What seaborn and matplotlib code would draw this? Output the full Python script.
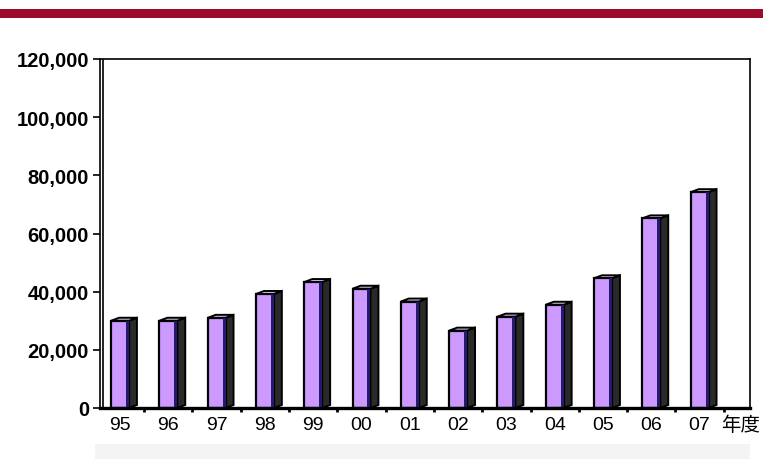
import matplotlib
matplotlib.use("Agg")
import matplotlib.pyplot as plt
import seaborn as sns
import pandas as pd
from matplotlib.patches import Polygon, Rectangle

years = ["95", "96", "97", "98", "99", "00", "01", "02", "03", "04", "05", "06", "07"]
values = [30000, 30000, 31000, 39200, 43300, 41000, 36600, 26600, 31400, 35500, 44600, 65200, 74200]
yticks = [0, 20000, 40000, 60000, 80000, 100000, 120000]
xunit = "年度"

sns.set_theme(style="white")
plt.rcParams['font.family'] = ['Liberation Sans', 'Noto Sans CJK JP', 'DejaVu Sans']
plt.rcParams['text.color'] = 'black'
plt.rcParams['xtick.color'] = 'black'
plt.rcParams['ytick.color'] = 'black'

W, H = 763, 460
fig = plt.figure(figsize=(W / 100, H / 100), dpi=100)
fig.patch.set_facecolor("white")

# top red band
fig.add_artist(Rectangle((0, 1 - 19 / H), 1, 9 / H, transform=fig.transFigure,
                         facecolor="#9E0A2A", edgecolor="none"))
# bottom light strip
fig.add_artist(Rectangle((95 / W, 0), (750 - 95) / W, 15 / H, transform=fig.transFigure,
                         facecolor="#f4f4f4", edgecolor="none"))

ax = fig.add_axes([100 / W, (H - 409) / H, 650 / W, 349 / H])
df = pd.DataFrame({"year": years, "value": values})
sns.barplot(data=df, x="year", y="value", color="#CC99FF", saturation=1,
            width=0.37, edgecolor="black", linewidth=1.6, ax=ax, zorder=3)

xpx = 48.3
ax.set_xlim(-20 / xpx, (750 - 120) / xpx)
ax.set_ylim(0, 120000)

dx = 8 / xpx
dy = 3 * 120000 / 349
stripe = 3 / xpx
for p in list(ax.patches):
    x0 = p.get_x()
    w = p.get_width()
    h = p.get_height()
    x1 = x0 + w
    side = Polygon([(x1, 0), (x1 + dx, dy), (x1 + dx, h + dy), (x1, h)],
                   closed=True, facecolor="#2a2a2a", edgecolor="black", linewidth=1.4, zorder=2)
    top = Polygon([(x0, h), (x0 + dx, h + dy), (x1 + dx, h + dy), (x1, h)],
                  closed=True, facecolor="#E6CCF5", edgecolor="black", linewidth=1.4, zorder=2)
    ax.add_patch(side)
    ax.add_patch(top)
    ax.add_patch(Rectangle((x1 - stripe, 0), stripe, h, facecolor="#2A1870",
                           edgecolor="none", zorder=3.5))

# spines
for s in ["top", "right"]:
    ax.spines[s].set_visible(True)
    ax.spines[s].set_color("black")
    ax.spines[s].set_linewidth(1.2)
ax.spines["left"].set_color("black")
ax.spines["left"].set_linewidth(1.2)
ax.spines["bottom"].set_color("black")
ax.spines["bottom"].set_linewidth(2.4)
ax.spines["bottom"].set_zorder(4)
# double left wall line
ax.axvline(-20 / xpx + 3 / xpx, color="black", linewidth=1.2, zorder=1)

ax.set_yticks(yticks)
ax.set_yticklabels([f"{v:,}" for v in yticks], fontsize=14.5, fontweight="bold", color="black")
ax.tick_params(axis="y", direction="out", length=5, width=1.2, color="black", pad=3, left=True)

ax.set_xticks(range(len(years)))
ax.set_xticklabels(years, fontsize=14, color="black")
ax.tick_params(axis="x", which="major", length=0, pad=6)
ax.set_xticks([i + 0.5 for i in range(len(years))], minor=True)
ax.tick_params(axis="x", which="minor", direction="out", length=3, width=2, color="black", bottom=True)

ax.set_xlabel("")
ax.set_ylabel("")
ax.text(12.45, -6 * 120000 / 349, xunit, fontsize=14, ha="left", va="top", color="black",
        family=['Noto Sans CJK JP', 'DejaVu Sans'])

fig.savefig("out.png", dpi=100, facecolor="white")
